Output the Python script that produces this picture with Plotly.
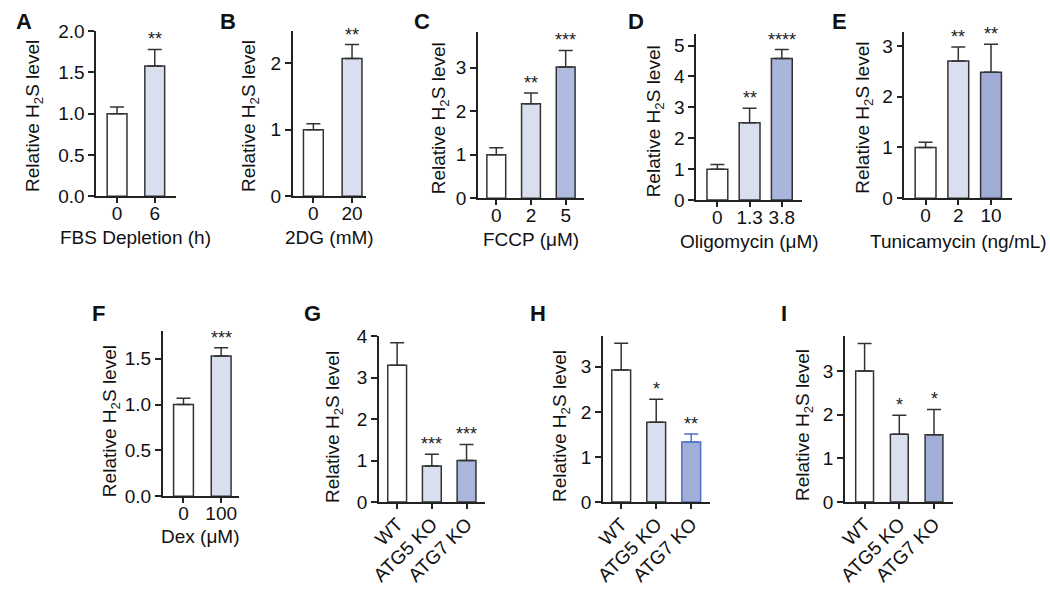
import plotly.graph_objects as go

W, H = 1050, 597

# ---------------- data ----------------
A_labels = ["0", "6"]
A_means = [1.0, 1.58]
A_errs = [0.08, 0.20]
A_stars = ["", "**"]

B_labels = ["0", "20"]
B_means = [1.0, 2.07]
B_errs = [0.09, 0.21]
B_stars = ["", "**"]

C_labels = ["0", "2", "5"]
C_means = [1.0, 2.17, 3.02]
C_errs = [0.16, 0.25, 0.38]
C_stars = ["", "**", "***"]

D_labels = ["0", "1.3", "3.8"]
D_means = [1.0, 2.50, 4.58]
D_errs = [0.15, 0.47, 0.29]
D_stars = ["", "**", "****"]

E_labels = ["0", "2", "10"]
E_means = [1.0, 2.70, 2.48]
E_errs = [0.10, 0.28, 0.55]
E_stars = ["", "**", "**"]

F_labels = ["0", "100"]
F_means = [1.0, 1.53]
F_errs = [0.07, 0.09]
F_stars = ["", "***"]

G_labels = ["WT", "ATG5 KO", "ATG7 KO"]
G_means = [3.30, 0.87, 1.00]
G_errs = [0.54, 0.28, 0.39]
G_stars = ["", "***", "***"]

H_labels = ["WT", "ATG5 KO", "ATG7 KO"]
H_means = [2.93, 1.77, 1.33]
H_errs = [0.59, 0.51, 0.18]
H_stars = ["", "*", "**"]

I_labels = ["WT", "ATG5 KO", "ATG7 KO"]
I_means = [3.00, 1.55, 1.54]
I_errs = [0.63, 0.44, 0.58]
I_stars = ["", "*", "*"]

x_titles = {
    "A": "FBS Depletion (h)",
    "B": "2DG (mM)",
    "C": "FCCP (\u03bcM)",
    "D": "Oligomycin (\u03bcM)",
    "E": "Tunicamycin (ng/mL)",
    "F": "Dex (\u03bcM)",
    "G": "",
    "H": "",
    "I": "",
}
y_title = "Relative H<sub>2</sub>S level"

WHITE = "#ffffff"
LIGHT = "#dadfef"
EDGE = "#333333"
BLUE_EDGE = "#4f72c4"

# ---------------- layout params (pixels) ----------------
panels = [
    dict(key="A", labels=A_labels, means=A_means, errs=A_errs, stars=A_stars,
         ax=88, xend=168, c0=109, sp=38, bw=20, bottom=193, top=22, ymax=2.0, dtick=0.5, fmt=".1f",
         fills=[WHITE, LIGHT], edges=[EDGE, EDGE], rot=False,
         letter=(15, 12), ytitle=(25, 110), xtitle_y=236),
    dict(key="B", labels=B_labels, means=B_means, errs=B_errs, stars=B_stars,
         ax=286, xend=360, c0=307, sp=39, bw=20, bottom=193, top=22, ymax=2.48, dtick=1, fmt="d",
         fills=[WHITE, LIGHT], edges=[EDGE, EDGE], rot=False,
         letter=(221, 12), ytitle=(243, 110), xtitle_y=236),
    dict(key="C", labels=C_labels, means=C_means, errs=C_errs, stars=C_stars,
         ax=473, xend=580, c0=491.5, sp=35, bw=19, bottom=195, top=23, ymax=3.82, dtick=1, fmt="d",
         fills=[WHITE, LIGHT, "#b0bcdf"], edges=[EDGE, EDGE, EDGE], rot=False,
         letter=(417, 12), ytitle=(435, 112), xtitle_y=238),
    dict(key="D", labels=D_labels, means=D_means, errs=D_errs, stars=D_stars,
         ax=693, xend=800, c0=714.5, sp=32.5, bw=21, bottom=197, top=25, ymax=5.37, dtick=1, fmt="d",
         fills=[WHITE, LIGHT, "#a9b6dc"], edges=[EDGE, EDGE, EDGE], rot=False,
         letter=(632, 12), ytitle=(652, 115), xtitle_y=240),
    dict(key="E", labels=E_labels, means=E_means, errs=E_errs, stars=E_stars,
         ax=903, xend=1012, c0=924.5, sp=33, bw=21, bottom=195, top=23, ymax=3.27, dtick=1, fmt="d",
         fills=[WHITE, LIGHT, "#a0acd6"], edges=[EDGE, EDGE, EDGE], rot=False,
         letter=(838, 12), ytitle=(862, 112), xtitle_y=240),
    dict(key="F", labels=F_labels, means=F_means, errs=F_errs, stars=F_stars,
         ax=155, xend=232, c0=176, sp=38, bw=20, bottom=504, top=333, ymax=1.8, dtick=0.5, fmt=".1f",
         fills=[WHITE, LIGHT], edges=[EDGE, EDGE], rot=False,
         letter=(90, 315), ytitle=(103, 426), xtitle_y=546),
    dict(key="G", labels=G_labels, means=G_means, errs=G_errs, stars=G_stars,
         ax=373, xend=480, c0=391.5, sp=35, bw=19, bottom=510, top=338, ymax=4.0, dtick=1, fmt="d",
         fills=[WHITE, LIGHT, "#aab6db"], edges=[EDGE, EDGE, EDGE], rot=True,
         letter=(306, 315), ytitle=(328, 432), xtitle_y=None),
    dict(key="H", labels=H_labels, means=H_means, errs=H_errs, stars=H_stars,
         ax=599, xend=707, c0=617.5, sp=35.3, bw=19, bottom=510, top=338, ymax=3.68, dtick=1, fmt="d",
         fills=[WHITE, LIGHT, "#a0aed8"], edges=[EDGE, EDGE, BLUE_EDGE], rot=True,
         letter=(534, 315), ytitle=(557, 431), xtitle_y=None),
    dict(key="I", labels=I_labels, means=I_means, errs=I_errs, stars=I_stars,
         ax=843, xend=952, c0=863, sp=35, bw=18, bottom=510, top=338, ymax=3.8, dtick=1, fmt="d",
         fills=[WHITE, LIGHT, "#a1aed8"], edges=[EDGE, EDGE, EDGE], rot=True,
         letter=(782, 315), ytitle=(802, 430), xtitle_y=None),
]

FONT = "Arial, 'Liberation Sans', Helvetica, sans-serif"
fig = go.Figure()
annotations = []
layout = {}

for i, p in enumerate(panels, start=1):
    xa = "x" if i == 1 else f"x{i}"
    ya = "y" if i == 1 else f"y{i}"
    xname = "xaxis" if i == 1 else f"xaxis{i}"
    yname = "yaxis" if i == 1 else f"yaxis{i}"
    n = len(p["labels"])
    xs = list(range(n))
    for j in xs:
        fig.add_trace(go.Bar(
            x=[j], y=[p["means"][j]], width=p["bw"] / p["sp"],
            marker=dict(color=p["fills"][j], line=dict(color=p["edges"][j], width=1.5)),
            error_y=dict(type="data", symmetric=False, array=[p["errs"][j]], arrayminus=[0],
                         color=p["edges"][j], thickness=1.5, width=7),
            xaxis=xa, yaxis=ya, showlegend=False, hoverinfo="skip",
        ))
        if p["stars"][j]:
            annotations.append(dict(
                x=j, y=p["means"][j] + p["errs"][j], xref=xa, yref=ya,
                text=p["stars"][j], showarrow=False, yanchor="bottom", xanchor="center",
                yshift=-2, font=dict(size=18, color="#222", family=FONT)))
    xr = [(p["ax"] - p["c0"]) / p["sp"], (p["xend"] - p["c0"]) / p["sp"]]
    layout[xname] = dict(
        domain=[p["ax"] / W, p["xend"] / W], range=xr, anchor=ya,
        tickvals=xs, ticktext=p["labels"], tickangle=-45 if p["rot"] else 0,
        ticklabelstandoff=-3 if p["rot"] else -6,
        showline=True, linecolor="#222", linewidth=1.5, ticks="outside", ticklen=5,
        tickwidth=1.5, tickcolor="#222", showgrid=False, zeroline=False,
        tickfont=dict(size=19, color="#111", family=FONT), fixedrange=True,
    )
    layout[yname] = dict(
        domain=[1 - p["bottom"] / H, 1 - p["top"] / H], range=[0, p["ymax"]], anchor=xa,
        dtick=p["dtick"], tick0=0, tickformat=p["fmt"],
        showline=True, linecolor="#222", linewidth=1.5, ticks="outside", ticklen=6,
        tickwidth=1.5, tickcolor="#222", showgrid=False, zeroline=False,
        tickfont=dict(size=19, color="#111", family=FONT), fixedrange=True,
    )
    # panel letter
    annotations.append(dict(
        x=p["letter"][0] / W, y=1 - p["letter"][1] / H, xref="paper", yref="paper",
        text=f"<b>{p['key']}</b>", showarrow=False, xanchor="center", yanchor="middle",
        font=dict(size=22, color="#111", family=FONT)))
    # y title
    annotations.append(dict(
        x=p["ytitle"][0] / W, y=1 - p["ytitle"][1] / H, xref="paper", yref="paper",
        text=y_title, textangle=-90, showarrow=False, xanchor="center", yanchor="middle",
        font=dict(size=19, color="#111", family=FONT)))
    # x title
    if p["xtitle_y"] is not None and x_titles[p["key"]]:
        annotations.append(dict(
            x=(p["ax"] + p["xend"]) / 2 / W, y=1 - p["xtitle_y"] / H, xref="paper", yref="paper",
            text=x_titles[p["key"]], showarrow=False, xanchor="center", yanchor="middle",
            font=dict(size=19, color="#111", family=FONT)))

fig.update_layout(
    width=W, height=H, margin=dict(l=0, r=0, t=0, b=0),
    paper_bgcolor="white", plot_bgcolor="white", barmode="overlay",
    annotations=annotations, font=dict(family=FONT, color="#111"),
    **layout,
)

fig.write_html(
    "out.html",
    config={"displayModeBar": False},
    post_script="document.body.style.margin='0';document.body.style.overflow='hidden';",
)
